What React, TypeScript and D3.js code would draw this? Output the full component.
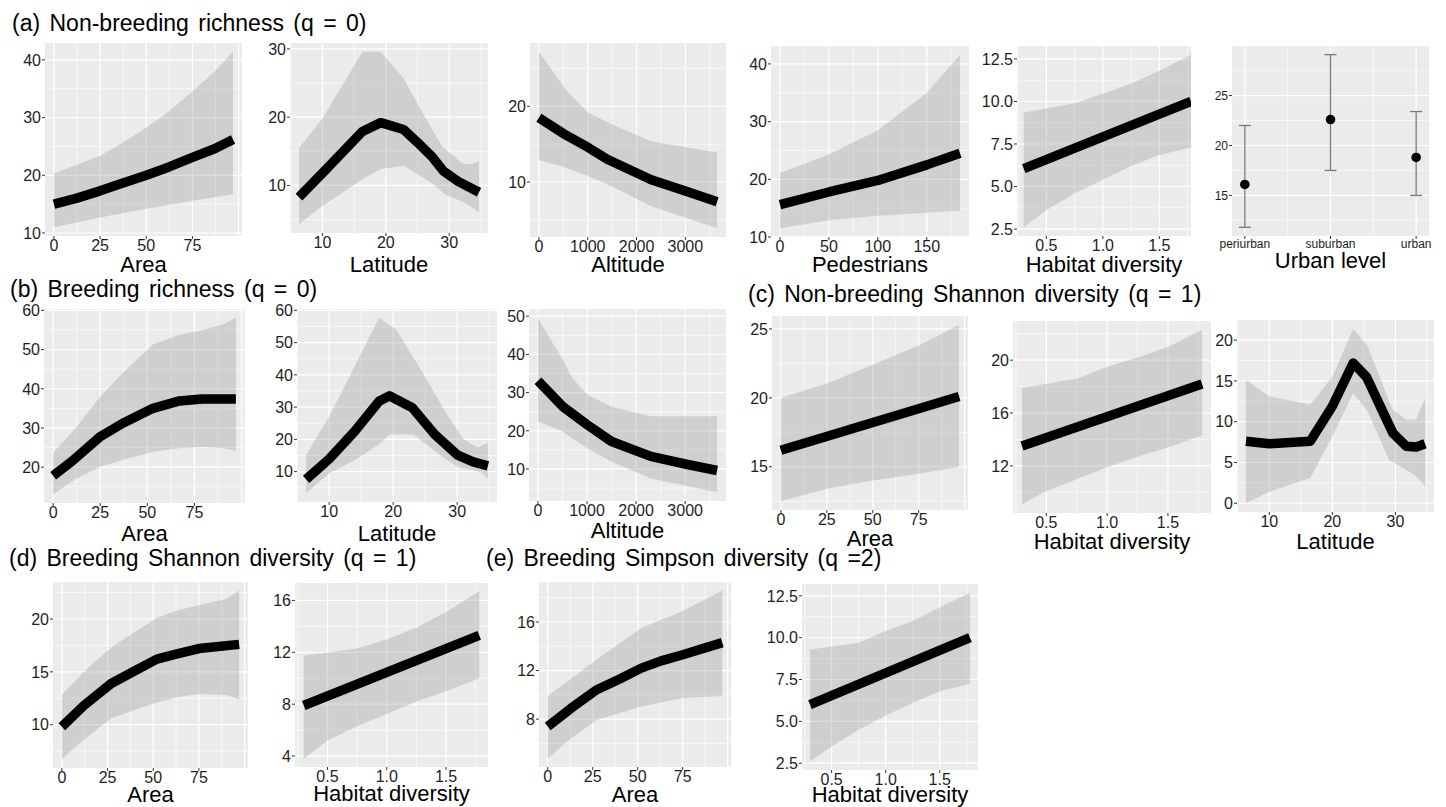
import React from 'react';
import * as d3 from 'd3';

type Pt = [number, number];

// ---- (a) non-breeding richness ----
const nbRichArea: Pt[] = [[0, 15], [12, 16.0], [25, 17.3], [37, 18.6], [50, 20.0], [62, 21.4], [75, 23.1], [87, 24.6], [97, 26.2]];
const nbRichAreaHi: Pt[] = [[0, 20.3], [12, 21.8], [25, 23.4], [37, 25.6], [50, 28.3], [62, 31], [75, 34.5], [87, 38], [97, 41.4]];
const nbRichAreaLo: Pt[] = [[0, 11], [25, 12.7], [50, 14.2], [75, 15.6], [97, 16.7]];

const nbRichLat: Pt[] = [[6.3, 8.3], [10, 11.8], [16.3, 17.9], [19.2, 19.2], [22.8, 18.2], [25, 16.3], [27.2, 14.3], [29.1, 12.1], [31.4, 10.6], [34.7, 9.0]];
const nbRichLatHi: Pt[] = [[6.3, 15.5], [10, 19.8], [16.3, 29.6], [19.2, 29.6], [22.8, 25.7], [25.8, 20.6], [28.9, 15.7], [32, 13.3], [33.3, 13.1], [34.7, 13.5]];
const nbRichLatLo: Pt[] = [[6.3, 4.3], [10, 7], [16.3, 10.9], [19.2, 12.4], [22.8, 12.9], [27.2, 10.4], [29.3, 8.7], [32.4, 7.5], [34.7, 6.1]];

const nbRichAlt: Pt[] = [[0, 18.5], [500, 16.4], [1000, 14.6], [1400, 13.0], [2300, 10.3], [3000, 8.8], [3650, 7.4]];
const nbRichAltHi: Pt[] = [[0, 27.2], [300, 24.5], [600, 21.8], [1000, 19.2], [1500, 17.6], [2300, 15.4], [3650, 13.9]];
const nbRichAltLo: Pt[] = [[0, 12.9], [500, 12], [1000, 10.8], [1500, 9.4], [2300, 6.8], [3650, 3.9]];

const nbRichPed: Pt[] = [[0, 15.6], [50, 17.8], [100, 19.8], [150, 22.5], [184, 24.5]];
const nbRichPedHi: Pt[] = [[0, 21.1], [50, 24.3], [100, 28.5], [150, 35], [184, 41.6]];
const nbRichPedLo: Pt[] = [[0, 11.5], [50, 12.9], [100, 13.7], [150, 14.2], [184, 14.6]];

const nbRichHab: Pt[] = [[0.3, 6.05], [1.78, 10.0]];
const nbRichHabHi: Pt[] = [[0.3, 9.35], [0.75, 9.9], [1.0, 10.45], [1.25, 11.05], [1.5, 11.8], [1.78, 12.75]];
const nbRichHabLo: Pt[] = [[0.3, 2.6], [0.5, 3.6], [0.75, 4.6], [1.0, 5.4], [1.25, 6.2], [1.5, 6.85], [1.78, 7.3]];

const urbanLevels = ['periurban', 'suburban', 'urban'];
const urbanMean = [16.1, 22.6, 18.8];
const urbanLo = [11.8, 17.5, 15.0];
const urbanHi = [22.0, 29.1, 23.4];

// ---- (b) breeding richness ----
const brRichArea: Pt[] = [[0, 17.8], [10, 21.5], [25, 27.8], [37, 31.2], [53, 35.0], [67, 36.9], [79, 37.4], [97, 37.4]];
const brRichAreaHi: Pt[] = [[0, 23.7], [12, 30], [25, 38], [38, 44.5], [53, 51.3], [67, 53.8], [79, 54.9], [90, 56.4], [97, 58.1]];
const brRichAreaLo: Pt[] = [[0, 13.1], [12, 17], [25, 20.1], [40, 22.3], [53, 23.9], [67, 24.8], [79, 25.2], [90, 24.8], [97, 24.2]];

const brRichLat: Pt[] = [[6.4, 7.6], [10, 13.9], [14, 22.5], [17.8, 31.8], [19.4, 33.5], [23, 29.8], [26.5, 21.5], [30, 15.2], [32.5, 13], [34.8, 11.8]];
const brRichLatHi: Pt[] = [[6.4, 15.2], [10, 27], [17.8, 57.7], [20.5, 54], [24.8, 40], [28.5, 27.5], [31, 20], [33.2, 17.5], [34.8, 19]];
const brRichLatLo: Pt[] = [[6.4, 3.3], [10, 9.5], [14, 13.5], [17.8, 18.5], [19.5, 21.5], [23.2, 21.5], [27.4, 15], [30, 11.5], [33.7, 9.8], [34.8, 7.7]];

const brRichAlt: Pt[] = [[0, 33.1], [500, 26.4], [1000, 21.6], [1500, 17.2], [2300, 13.3], [3000, 11.3], [3650, 9.6]];
const brRichAltHi: Pt[] = [[0, 49.6], [250, 44], [500, 38.8], [700, 33.8], [1000, 29.5], [1500, 26.3], [2300, 23.8], [3650, 23.8]];
const brRichAltLo: Pt[] = [[0, 22.5], [500, 19.8], [1000, 15.4], [1500, 11.9], [2300, 7.5], [3650, 3.9]];

// ---- (c) non-breeding Shannon ----
const nbShArea: Pt[] = [[0, 16.2], [97, 20.1]];
const nbShAreaHi: Pt[] = [[0, 20], [25, 21.05], [50, 22.4], [75, 23.8], [97, 25.3]];
const nbShAreaLo: Pt[] = [[0, 12.5], [25, 13.4], [50, 14.0], [75, 14.5], [97, 15.0]];

const nbShHab: Pt[] = [[0.3, 13.5], [1.78, 18.2]];
const nbShHabHi: Pt[] = [[0.3, 17.9], [0.75, 18.6], [1.0, 19.5], [1.25, 20.2], [1.5, 21], [1.78, 22.3]];
const nbShHabLo: Pt[] = [[0.3, 9.1], [0.5, 10.1], [0.75, 11.0], [1.0, 11.9], [1.25, 12.7], [1.5, 13.4], [1.78, 14.3]];

const nbShLat: Pt[] = [[6.3, 7.6], [10, 7.3], [16.5, 7.6], [20, 11.9], [23.3, 17.2], [25.4, 15.5], [29.6, 8.6], [31.7, 7.0], [33.3, 6.9], [34.7, 7.3]];
const nbShLatHi: Pt[] = [[6.3, 15.1], [10, 13.1], [16.5, 12.1], [20, 15.5], [23.3, 21.4], [25.5, 19.4], [29.5, 11.6], [31.7, 10.2], [33.3, 10.3], [34.7, 12.9]];
const nbShLatLo: Pt[] = [[6.3, 0], [10, 1.4], [16.5, 3.1], [20, 8.2], [23.3, 13.5], [25.5, 11.4], [29, 5.3], [31.7, 4.1], [33.3, 3.3], [34.7, 2.1]];

// ---- (d) breeding Shannon ----
const brShArea: Pt[] = [[0, 9.8], [12, 11.8], [27, 13.9], [40, 15.1], [52, 16.2], [63, 16.7], [75, 17.2], [97, 17.6]];
const brShAreaHi: Pt[] = [[0, 12.8], [12, 15], [27, 17.3], [40, 18.8], [52, 20.1], [63, 20.8], [75, 21.3], [90, 21.9], [97, 22.7]];
const brShAreaLo: Pt[] = [[0, 6.7], [10, 8.3], [27, 10.6], [40, 11.4], [52, 12.1], [63, 12.6], [75, 12.9], [90, 12.8], [97, 12.4]];

const brShHab: Pt[] = [[0.3, 7.9], [1.78, 13.3]];
const brShHabHi: Pt[] = [[0.3, 11.75], [0.75, 12.3], [1.0, 13], [1.25, 13.9], [1.5, 15.1], [1.78, 16.7]];
const brShHabLo: Pt[] = [[0.3, 3.8], [0.5, 5.2], [0.75, 6.3], [1.0, 7.25], [1.25, 8.2], [1.5, 9.0], [1.78, 10.0]];

// ---- (e) breeding Simpson ----
const brSiArea: Pt[] = [[0, 7.4], [13, 8.9], [27, 10.4], [40, 11.3], [52, 12.2], [63, 12.8], [75, 13.3], [97, 14.3]];
const brSiAreaHi: Pt[] = [[0, 9.9], [27, 12.9], [52, 15.5], [75, 16.9], [97, 18.6]];
const brSiAreaLo: Pt[] = [[0, 4.75], [12, 6.3], [27, 7.9], [52, 9.05], [75, 9.75], [97, 9.9]];

const brSiHab: Pt[] = [[0.3, 6.0], [1.78, 10.0]];
const brSiHabHi: Pt[] = [[0.3, 9.3], [0.75, 9.7], [1.0, 10.4], [1.25, 11.0], [1.5, 11.8], [1.78, 12.7]];
const brSiHabLo: Pt[] = [[0.3, 2.6], [0.5, 3.5], [0.75, 4.5], [1.0, 5.35], [1.25, 6.1], [1.5, 6.8], [1.78, 7.25]];

const FONT = '"Liberation Sans", Arial, sans-serif';
const TXT = '#1e1e1e';
const TICK_FS = 16;

type PanelDef = {
  id: string;
  box: [number, number, number, number];
  fit: Pt[];
  hi: Pt[];
  lo: Pt[];
  xStep: number;
  yStep: number;
  xDec?: number;
  yDec?: number;
  xTitle: string;
  titleY: number;
  hideX?: number[];
  xDomain?: [number, number];
};

const panels: PanelDef[] = [
  { id: 'a1', box: [45, 43, 242, 236], fit: nbRichArea, hi: nbRichAreaHi, lo: nbRichAreaLo, xStep: 25, yStep: 10, xTitle: 'Area', titleY: 272, hideX: [100] },
  { id: 'a2', box: [290, 43, 488, 233], fit: nbRichLat, hi: nbRichLatHi, lo: nbRichLatLo, xStep: 10, yStep: 10, xTitle: 'Latitude', titleY: 272 },
  { id: 'a3', box: [530, 43, 726, 237], fit: nbRichAlt, hi: nbRichAltHi, lo: nbRichAltLo, xStep: 1000, yStep: 10, xTitle: 'Altitude', titleY: 272 },
  { id: 'a4', box: [771, 46, 969, 237], fit: nbRichPed, hi: nbRichPedHi, lo: nbRichPedLo, xStep: 50, yStep: 10, xTitle: 'Pedestrians', titleY: 272 },
  { id: 'a5', box: [1017, 46, 1191, 236], fit: nbRichHab, hi: nbRichHabHi, lo: nbRichHabLo, xStep: 0.5, yStep: 2.5, xDec: 1, yDec: 1, xTitle: 'Habitat diversity', titleY: 272, xDomain: [0.24, 1.78] },
  { id: 'b1', box: [44, 309, 245, 503], fit: brRichArea, hi: brRichAreaHi, lo: brRichAreaLo, xStep: 25, yStep: 10, xTitle: 'Area', titleY: 541, hideX: [100] },
  { id: 'b2', box: [297, 309, 497, 502], fit: brRichLat, hi: brRichLatHi, lo: brRichLatLo, xStep: 10, yStep: 10, xTitle: 'Latitude', titleY: 541 },
  { id: 'b3', box: [529, 309, 726, 501], fit: brRichAlt, hi: brRichAltHi, lo: brRichAltLo, xStep: 1000, yStep: 10, xTitle: 'Altitude', titleY: 538 },
  { id: 'c1', box: [772, 316, 968, 510], fit: nbShArea, hi: nbShAreaHi, lo: nbShAreaLo, xStep: 25, yStep: 5, xTitle: 'Area', titleY: 546, hideX: [100] },
  { id: 'c2', box: [1013, 321, 1211, 513], fit: nbShHab, hi: nbShHabHi, lo: nbShHabLo, xStep: 0.5, yStep: 4, xDec: 1, xTitle: 'Habitat diversity', titleY: 549 },
  { id: 'c3', box: [1237, 320, 1434, 512], fit: nbShLat, hi: nbShLatHi, lo: nbShLatLo, xStep: 10, yStep: 5, xTitle: 'Latitude', titleY: 549 },
  { id: 'd1', box: [53, 582, 248, 768], fit: brShArea, hi: brShAreaHi, lo: brShAreaLo, xStep: 25, yStep: 5, xTitle: 'Area', titleY: 802, hideX: [100] },
  { id: 'd2', box: [295, 583, 488, 767], fit: brShHab, hi: brShHabHi, lo: brShHabLo, xStep: 0.5, yStep: 4, xDec: 1, xTitle: 'Habitat diversity', titleY: 801 },
  { id: 'e1', box: [539, 582, 731, 767], fit: brSiArea, hi: brSiAreaHi, lo: brSiAreaLo, xStep: 25, yStep: 4, xTitle: 'Area', titleY: 802, hideX: [100] },
  { id: 'e2', box: [802, 584, 978, 770], fit: brSiHab, hi: brSiHabHi, lo: brSiHabLo, xStep: 0.5, yStep: 2.5, xDec: 1, yDec: 1, xTitle: 'Habitat diversity', titleY: 802 },
];

const rowTitles = [
  { text: '(a) Non-breeding richness (q = 0)', x: 12, y: 31 },
  { text: '(b) Breeding richness (q = 0)', x: 10, y: 297 },
  { text: '(c) Non-breeding Shannon diversity (q = 1)', x: 748, y: 302 },
  { text: '(d) Breeding Shannon diversity (q = 1)', x: 9, y: 566 },
  { text: '(e) Breeding Simpson diversity (q =2)', x: 486, y: 566 },
];

// ggplot-like 5% expansion
function expand(vals: number[], f = 0.05): [number, number] {
  const [a, b] = d3.extent(vals) as [number, number];
  const d = (b - a) * f;
  return [a - d, b + d];
}

function stepsIn(dom: [number, number], step: number, offset = 0) {
  const out: number[] = [];
  let v = Math.ceil((dom[0] - offset) / step) * step + offset;
  for (; v <= dom[1] + 1e-9; v += step) out.push(+v.toFixed(6));
  return out;
}

function LinePanel({ p }: { p: PanelDef }) {
  const [x0, y0, x1, y1] = p.box;
  const all = [...p.fit, ...p.hi, ...p.lo];
  const xDom = p.xDomain ?? expand(all.map(d => d[0]));
  const yDom = expand(all.map(d => d[1]));
  const x = d3.scaleLinear().domain(xDom).range([x0, x1]);
  const y = d3.scaleLinear().domain(yDom).range([y1, y0]);
  const xMaj = stepsIn(xDom, p.xStep);
  const yMaj = stepsIn(yDom, p.yStep);
  const xMin = stepsIn(xDom, p.xStep, p.xStep / 2);
  const yMin = stepsIn(yDom, p.yStep, p.yStep / 2);
  const xLab = xMaj.filter(v => !(p.hideX ?? []).includes(v));
  const line = d3.line<Pt>().x(d => x(d[0])).y(d => y(d[1]));
  const ribbon = line([...p.hi, ...p.lo.slice().reverse()]) + 'Z';
  const fx = (v: number) => (p.xDec ? v.toFixed(p.xDec) : String(v));
  const fy = (v: number) => (p.yDec ? v.toFixed(p.yDec) : String(v));
  return (
    <g>
      <defs>
        <clipPath id={`clip-${p.id}`}>
          <rect x={x0} y={y0} width={x1 - x0} height={y1 - y0} />
        </clipPath>
      </defs>
      <rect x={x0} y={y0} width={x1 - x0} height={y1 - y0} fill="#EBEBEB" />
      {xMin.map(v => <line key={'xm' + v} x1={x(v)} x2={x(v)} y1={y0} y2={y1} stroke="#fff" strokeWidth={0.6} />)}
      {yMin.map(v => <line key={'ym' + v} x1={x0} x2={x1} y1={y(v)} y2={y(v)} stroke="#fff" strokeWidth={0.6} />)}
      {xMaj.map(v => <line key={'xM' + v} x1={x(v)} x2={x(v)} y1={y0} y2={y1} stroke="#fff" strokeWidth={1.2} />)}
      {yMaj.map(v => <line key={'yM' + v} x1={x0} x2={x1} y1={y(v)} y2={y(v)} stroke="#fff" strokeWidth={1.2} />)}
      <g clipPath={`url(#clip-${p.id})`}>
        <path d={ribbon} fill="#999999" fillOpacity={0.33} />
        <path d={line(p.fit) ?? ''} fill="none" stroke="#000" strokeWidth={9.5} strokeLinejoin="round" />
      </g>
      {xLab.map(v => (
        <g key={'xt' + v}>
          <line x1={x(v)} x2={x(v)} y1={y1} y2={y1 + 3} stroke="#333" strokeWidth={1} />
          <text x={x(v)} y={y1 + 15} textAnchor="middle" fontSize={TICK_FS} fill={TXT}>{fx(v)}</text>
        </g>
      ))}
      {yMaj.map(v => (
        <g key={'yt' + v}>
          <line x1={x0 - 3} x2={x0} y1={y(v)} y2={y(v)} stroke="#333" strokeWidth={1} />
          <text x={x0 - 4} y={y(v)} dy="0.36em" textAnchor="end" fontSize={TICK_FS} fill={TXT}>{fy(v)}</text>
        </g>
      ))}
      <text x={(x0 + x1) / 2} y={p.titleY} textAnchor="middle" fontSize={22} fill="#000">{p.xTitle}</text>
    </g>
  );
}

function UrbanPanel() {
  const [x0, y0, x1, y1] = [1232, 46, 1429, 236];
  const yDom = expand([...urbanLo, ...urbanHi]);
  const x = d3.scalePoint<string>().domain(urbanLevels).range([x0, x1]).padding(0.15);
  const y = d3.scaleLinear().domain(yDom).range([y1, y0]);
  const yMaj = stepsIn(yDom, 5);
  const yMin = stepsIn(yDom, 5, 2.5);
  const xs = urbanLevels.map(c => x(c) as number);
  const xMin = xs.slice(1).map((v, i) => (v + xs[i]) / 2);
  return (
    <g>
      <rect x={x0} y={y0} width={x1 - x0} height={y1 - y0} fill="#EBEBEB" />
      {yMin.map(v => <line key={'ym' + v} x1={x0} x2={x1} y1={y(v)} y2={y(v)} stroke="#fff" strokeWidth={0.6} />)}
      {xMin.map(v => <line key={'xm' + v} x1={v} x2={v} y1={y0} y2={y1} stroke="#fff" strokeWidth={0.6} />)}
      {yMaj.map(v => <line key={'yM' + v} x1={x0} x2={x1} y1={y(v)} y2={y(v)} stroke="#fff" strokeWidth={1.2} />)}
      {xs.map(v => <line key={'xM' + v} x1={v} x2={v} y1={y0} y2={y1} stroke="#fff" strokeWidth={1.2} />)}
      {urbanLevels.map((c, i) => {
        const cx = x(c) as number;
        return (
          <g key={c}>
            <line x1={cx} x2={cx} y1={y(urbanLo[i])} y2={y(urbanHi[i])} stroke="#7a7a7a" strokeWidth={1.3} />
            <line x1={cx - 6} x2={cx + 6} y1={y(urbanLo[i])} y2={y(urbanLo[i])} stroke="#7a7a7a" strokeWidth={1.3} />
            <line x1={cx - 6} x2={cx + 6} y1={y(urbanHi[i])} y2={y(urbanHi[i])} stroke="#7a7a7a" strokeWidth={1.3} />
            <circle cx={cx} cy={y(urbanMean[i])} r={4.8} fill="#000" />
            <line x1={cx} x2={cx} y1={y1} y2={y1 + 3} stroke="#333" strokeWidth={1} />
            <text x={cx} y={y1 + 12} textAnchor="middle" fontSize={12} fill={TXT}>{c}</text>
          </g>
        );
      })}
      {yMaj.map(v => (
        <g key={'yt' + v}>
          <line x1={x0 - 3} x2={x0} y1={y(v)} y2={y(v)} stroke="#333" strokeWidth={1} />
          <text x={x0 - 4} y={y(v)} dy="0.36em" textAnchor="end" fontSize={12} fill={TXT}>{v}</text>
        </g>
      ))}
      <text x={(x0 + x1) / 2} y={268} textAnchor="middle" fontSize={22} fill="#000">Urban level</text>
    </g>
  );
}

export default function App() {
  return (
    <svg
      width={1446}
      height={807}
      style={{ position: 'absolute', left: 0, top: 0, background: '#fff' }}
      fontFamily={FONT}
    >
      <rect width={1446} height={807} fill="#fff" />
      {rowTitles.map(t => (
        <text key={t.text} x={t.x} y={t.y} fontSize={23} wordSpacing={3} fill="#000">{t.text}</text>
      ))}
      {panels.map(p => <LinePanel key={p.id} p={p} />)}
      <UrbanPanel />
    </svg>
  );
}
